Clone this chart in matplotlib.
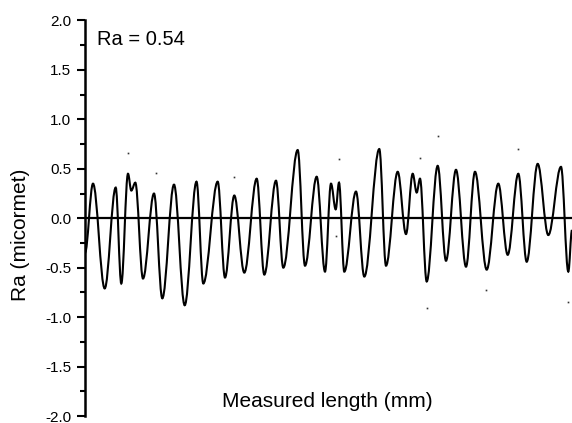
import numpy as np
import matplotlib.pyplot as plt
from matplotlib.path import Path
from matplotlib.patches import PathPatch

plt.rcParams['font.family'] = ['Liberation Sans', 'DejaVu Sans']

# -------------------------------
# PROFILE DATA (peaks / valleys)
# -------------------------------
pos_mm = [0.00, 0.08, 0.197, 0.307, 0.363, 0.43, 0.463, 0.503, 0.58, 0.69,
          0.773, 0.89, 0.997, 1.115, 1.183, 1.327, 1.40, 1.493, 1.593, 1.717,
          1.793, 1.91, 1.983, 2.127, 2.20, 2.317, 2.40, 2.46, 2.507, 2.54,
          2.593, 2.71, 2.793, 2.943, 3.01, 3.127, 3.21, 3.277, 3.317, 3.35,
          3.417, 3.527, 3.61, 3.71, 3.81, 3.90, 4.017, 4.133, 4.227, 4.333,
          4.417, 4.527, 4.633, 4.76, 4.833, 4.87]
height_um = [-0.35, 0.35, -0.71, 0.31, -0.66, 0.45, 0.28, 0.36, -0.61, 0.25,
             -0.81, 0.34, -0.88, 0.37, -0.66, 0.37, -0.60, 0.23, -0.55, 0.40,
             -0.57, 0.38, -0.50, 0.69, -0.48, 0.42, -0.54, 0.35, 0.09, 0.36,
             -0.54, 0.27, -0.59, 0.70, -0.48, 0.47, -0.16, 0.45, 0.26, 0.40,
             -0.64, 0.53, -0.43, 0.49, -0.49, 0.47, -0.52, 0.35, -0.37, 0.45,
             -0.44, 0.55, -0.17, 0.52, -0.54, -0.12]

# stray points in the scan
dot_x = [0.427, 0.71, 1.493, 2.507, 2.54, 3.35, 3.417, 3.527, 4.01, 4.33, 4.825]
dot_y = [0.66, 0.46, 0.42, -0.18, 0.60, 0.61, -0.91, 0.83, -0.73, 0.70, -0.85]

Ra = 0.54

# -------------------------------
# FIGURE
# -------------------------------
fig = plt.figure(figsize=(5.72, 4.23), dpi=100)
ax = fig.add_axes([85/572, 7/423, 1 - 85/572, 395.5/423])

# smooth trace: cubic bezier between extrema (horizontal tangents)
k = 0.36
verts = [(pos_mm[0], height_um[0])]
codes = [Path.MOVETO]
for i in range(len(pos_mm) - 1):
    x0, y0 = pos_mm[i], height_um[i]
    x1, y1 = pos_mm[i + 1], height_um[i + 1]
    dx = x1 - x0
    verts += [(x0 + k*dx, y0), (x1 - k*dx, y1), (x1, y1)]
    codes += [Path.CURVE4] * 3
ax.add_patch(PathPatch(Path(verts, codes), facecolor='none',
                       edgecolor='black', lw=1.5))

ax.axhline(0, color='black', lw=1.6)
ax.plot(dot_x, dot_y, 's', color='#333333', ms=1.2, mew=0)

ax.set_xlim(0, 4.87)
ax.set_ylim(-2.0, 2.0)
ax.set_yticks(np.arange(-2.0, 2.01, 0.5))
ax.set_yticks(np.arange(-1.75, 2.0, 0.5), minor=True)
ax.set_yticklabels([f'{v:.1f}' for v in np.arange(-2.0, 2.01, 0.5)])
ax.set_xticks([])

for s in ['top', 'right', 'bottom']:
    ax.spines[s].set_visible(False)
ax.spines['left'].set_linewidth(1.8)
ax.tick_params(axis='y', which='major', length=6, width=1.5,
               labelsize=11, pad=4, colors='black')
ax.tick_params(axis='y', which='minor', length=3.5, width=1.5)

fig.text(97/572, 1 - 45/423, f'Ra = {Ra}', fontsize=14.5, va='baseline')
fig.text(327/572, 1 - 406.5/423, 'Measured length (mm)', fontsize=15,
         ha='center', va='baseline')
fig.text(21/572, 1 - 235/423, 'Ra (micormet)', fontsize=15, rotation=90,
         ha='center', va='center')

fig.savefig('out.png', dpi=100)
